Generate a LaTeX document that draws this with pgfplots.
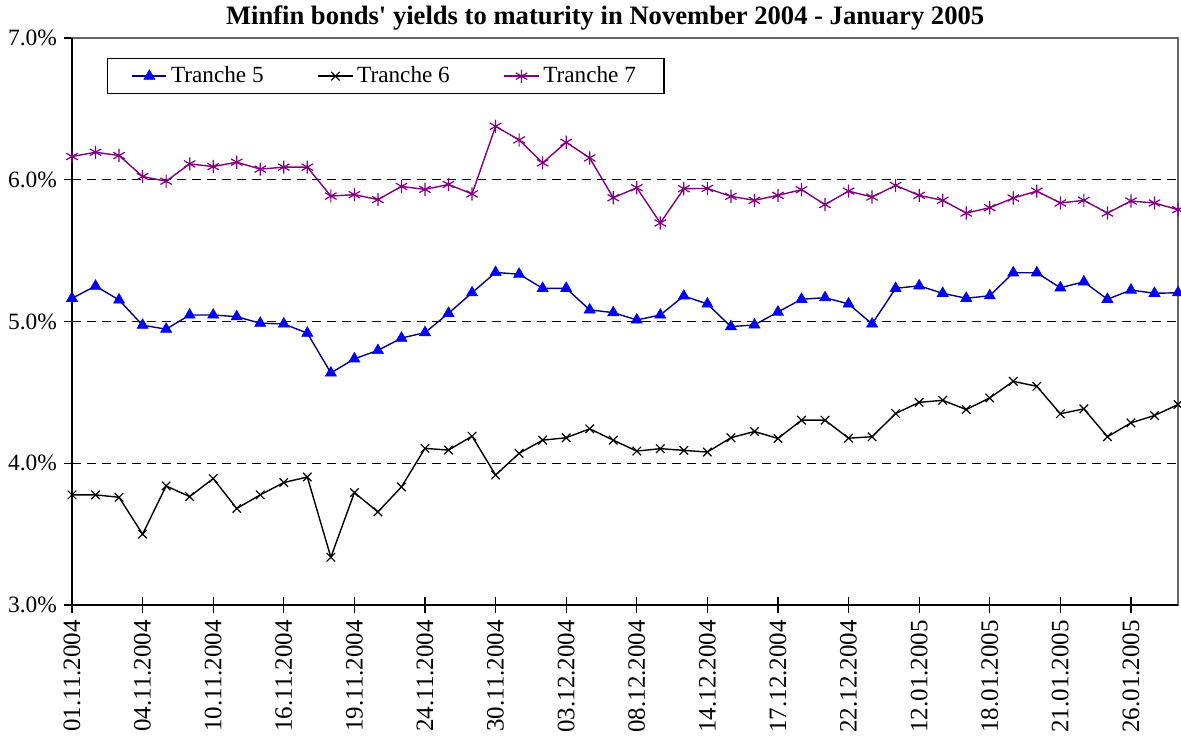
\documentclass[border=0pt]{standalone}
\usepackage{pgfplots}
\pgfplotsset{compat=1.18}
\usepackage{pgfplotstable}
\usepackage{fontspec}
\setmainfont{Liberation Serif}
\newfontfamily\titlefont{Liberation Serif}
\definecolor{tnavy}{RGB}{0,0,128}
\definecolor{tblue}{RGB}{0,0,255}
\definecolor{tpurple}{RGB}{128,0,128}
\pgfplotstableread{
i t5 t6 t7
0 5.164 3.777 6.164
1 5.250 3.777 6.194
2 5.152 3.760 6.171
3 4.974 3.500 6.023
4 4.946 3.840 5.990
5 5.046 3.765 6.112
6 5.046 3.892 6.093
7 5.034 3.681 6.124
8 4.988 3.777 6.075
9 4.983 3.864 6.089
10 4.918 3.903 6.089
11 4.637 3.337 5.885
12 4.737 3.793 5.895
13 4.796 3.657 5.860
14 4.883 3.833 5.953
15 4.922 4.105 5.932
16 5.058 4.093 5.967
17 5.203 4.191 5.900
18 5.346 3.917 6.377
19 5.334 4.070 6.281
20 5.234 4.163 6.119
21 5.234 4.180 6.264
22 5.082 4.243 6.154
23 5.063 4.163 5.873
24 5.011 4.086 5.944
25 5.046 4.103 5.695
26 5.180 4.091 5.937
27 5.124 4.079 5.939
28 4.964 4.180 5.883
29 4.976 4.224 5.855
30 5.067 4.175 5.890
31 5.157 4.304 5.930
32 5.168 4.304 5.825
33 5.124 4.177 5.920
34 4.983 4.187 5.878
35 5.234 4.351 5.960
36 5.252 4.430 5.890
37 5.199 4.444 5.855
38 5.164 4.379 5.765
39 5.182 4.461 5.803
40 5.344 4.578 5.871
41 5.344 4.543 5.920
42 5.238 4.349 5.836
43 5.280 4.384 5.855
44 5.157 4.187 5.765
45 5.222 4.285 5.850
46 5.199 4.337 5.836
47 5.203 4.414 5.789
}\datatable
\begin{document}
\begin{tikzpicture}
\begin{axis}[
  scale only axis,
  width=553pt, height=283.5pt,
  xmin=0, xmax=47, ymin=3, ymax=7,
  clip=false,
  axis line style={gray!80!black, line width=0.6pt},
  xtick={0,3,...,45},
  xticklabels={01.11.2004,04.11.2004,10.11.2004,16.11.2004,19.11.2004,24.11.2004,30.11.2004,03.12.2004,08.12.2004,14.12.2004,17.12.2004,22.12.2004,12.01.2005,18.01.2005,21.01.2005,26.01.2005},
  xticklabel style={rotate=90, anchor=east, font=\fontsize{12.5}{14}\selectfont},
  ytick={3,4,5,6,7},
  yticklabel={\pgfmathprintnumber[fixed,fixed zerofill,precision=1]{\tick}\%},
  yticklabel style={font=\fontsize{11.7}{13}\selectfont},
  /pgf/number format/assume math mode=true,
  tick align=center,
  major tick length=8pt,
  tick style={black, line width=0.6pt},
  xtick pos=bottom, ytick pos=left,
  ymajorgrids,
  grid style={black, dash pattern=on 4.5pt off 3pt, line width=0.5pt},
  title={\titlefont\bfseries Minfin bonds' yields to maturity in November 2004 - January 2005},
  title style={at={(0.482,1)}, anchor=base, yshift=1pt, font=\fontsize{13.3}{15}\selectfont},
  legend columns=3,
  legend style={at={(0.0316,0.9647)}, anchor=north west, draw=black, line width=0.6pt,
    font=\fontsize{11.6}{13}\selectfont, inner xsep=12pt, inner ysep=2pt,
    /tikz/every even column/.append style={column sep=25pt}},
]
\addplot[tnavy, line width=0.7pt, mark=triangle*, mark size=3.2pt, mark options={fill=tblue, draw=tblue, line width=0.3pt}] table[x=i, y=t5] {\datatable};
\addlegendentry{Tranche 5}
\addplot[black, line width=0.7pt, mark=x, mark size=3pt, mark options={line width=0.6pt}] table[x=i, y=t6] {\datatable};
\addlegendentry{Tranche 6}
\addplot[tpurple, line width=0.7pt, mark=asterisk, mark size=3.3pt, mark options={line width=0.6pt}] table[x=i, y=t7] {\datatable};
\addlegendentry{Tranche 7}
\draw[black, line width=0.6pt] (rel axis cs:0,1) -- (rel axis cs:0,0) -- (rel axis cs:1,0);
\end{axis}
\pgfresetboundingbox
\useasboundingbox (-36pt,-65.5pt) rectangle (554.5pt,302.5pt);
\end{tikzpicture}
\end{document}
